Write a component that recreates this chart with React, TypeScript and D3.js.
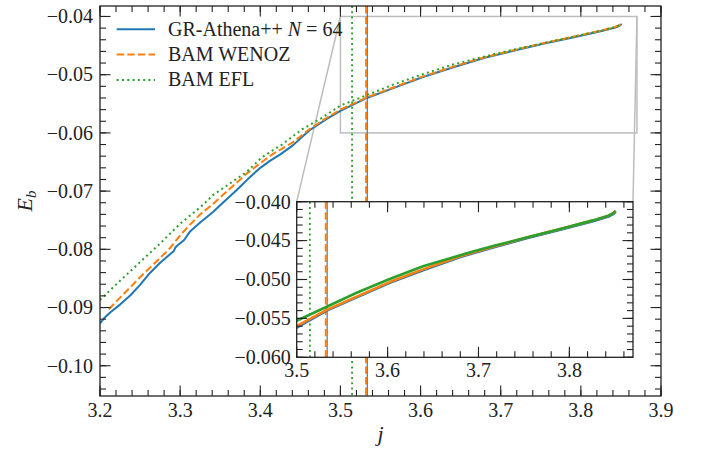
import React from "react";
import * as d3 from "d3";

// ---------- data ----------
const athenaJ = [3.200, 3.206, 3.213, 3.225, 3.238, 3.250, 3.262, 3.275, 3.287, 3.292, 3.294, 3.297, 3.305, 3.312, 3.325, 3.341, 3.355, 3.370, 3.387, 3.400, 3.412, 3.425, 3.441, 3.452, 3.462, 3.483, 3.500, 3.533, 3.566, 3.603, 3.639, 3.680, 3.716, 3.753, 3.790, 3.826, 3.843, 3.848, 3.851];
const athenaE = [-0.0927, -0.0917, -0.0908, -0.0895, -0.0879, -0.0861, -0.0841, -0.0823, -0.0809, -0.0803, -0.0797, -0.0793, -0.0784, -0.0770, -0.0754, -0.0736, -0.0718, -0.0699, -0.0676, -0.0660, -0.0648, -0.0637, -0.0621, -0.0607, -0.0595, -0.0576, -0.0562, -0.0540, -0.0523, -0.0504, -0.0488, -0.0471, -0.0459, -0.0447, -0.0436, -0.0425, -0.0419, -0.0416, -0.0413];

const wenozJ = [3.211, 3.225, 3.238, 3.250, 3.262, 3.275, 3.288, 3.300, 3.312, 3.325, 3.341, 3.362, 3.383, 3.400, 3.416, 3.441, 3.462, 3.483, 3.500, 3.533, 3.566, 3.603, 3.639, 3.680, 3.716, 3.753, 3.790, 3.826, 3.843, 3.848, 3.851];
const wenozE = [-0.0903, -0.0883, -0.0865, -0.0848, -0.0832, -0.0815, -0.0797, -0.0776, -0.0758, -0.0740, -0.0722, -0.0696, -0.0670, -0.0652, -0.0636, -0.0616, -0.0593, -0.0574, -0.0560, -0.0539, -0.0522, -0.0503, -0.0487, -0.0470, -0.0458, -0.0446, -0.0435, -0.0424, -0.0418, -0.0415, -0.0412];

const eflJ = [3.200, 3.225, 3.250, 3.275, 3.300, 3.325, 3.341, 3.383, 3.402, 3.427, 3.452, 3.477, 3.500, 3.533, 3.566, 3.603, 3.639, 3.691, 3.716, 3.753, 3.790, 3.826, 3.843, 3.848, 3.851];
const eflE = [-0.0887, -0.0854, -0.0822, -0.0790, -0.0756, -0.0728, -0.0707, -0.0667, -0.0642, -0.0620, -0.0594, -0.0574, -0.0553, -0.0535, -0.0517, -0.0499, -0.0483, -0.0465, -0.0457, -0.0446, -0.0435, -0.0424, -0.0418, -0.0415, -0.0412];

// vertical markers (j at merger)
const markerAthena = 3.5335;
const markerWenoz = 3.532;
const markerEfl = 3.5145;

const seriesNames = ["GR-Athena++ ", "BAM WENOZ", "BAM EFL"];
const colors = ["#1f77b4", "#ff7f0e", "#2ca02c"];

const mainXTicks = [3.2, 3.3, 3.4, 3.5, 3.6, 3.7, 3.8, 3.9];
const mainYTicks = [-0.10, -0.09, -0.08, -0.07, -0.06, -0.05, -0.04];
const insetXTicks = [3.5, 3.6, 3.7, 3.8];
const insetYTicks = [-0.060, -0.055, -0.050, -0.045, -0.040];

// ---------- layout ----------
const W = 706, H = 451;
const M = { l: 100, r: 661, t: 6, b: 396 };
const I = { l: 296.7, r: 633, t: 201.7, b: 357.3 };
const FONT = "'Liberation Serif', 'DejaVu Serif', serif";
const FS = 20;

const xMain = d3.scaleLinear().domain([3.2, 3.9]).range([M.l, M.r]);
const yMain = d3.scaleLinear().domain([-0.1052, -0.0382]).range([M.b, M.t]);
const xIn = d3.scaleLinear().domain([3.5, 3.87]).range([I.l, I.r]);
const yIn = d3.scaleLinear().domain([-0.06, -0.04]).range([I.b, I.t]);

const fmtNeg = (v: number, d: number) => (v < 0 ? "\u2212" : "") + Math.abs(v).toFixed(d);

function range(a: number, b: number, s: number) {
  const out: number[] = [];
  const n = Math.round((b - a) / s);
  for (let i = 0; i <= n; i++) out.push(+(a + i * s).toFixed(6));
  return out;
}

function Ticks({ x, y, box, xMaj, yMaj, xMin, yMin }: any) {
  const L = 10.5, l = 6;
  const els: any[] = [];
  const add = (key: string, x1: number, y1: number, x2: number, y2: number) =>
    els.push(<line key={key} x1={x1} y1={y1} x2={x2} y2={y2} stroke="#222" strokeWidth={1.1} />);
  xMin.forEach((v: number, i: number) => {
    const px = x(v);
    if (px < box.l - 0.5 || px > box.r + 0.5) return;
    add("xmb" + i, px, box.b, px, box.b - l);
    add("xmt" + i, px, box.t, px, box.t + l);
  });
  xMaj.forEach((v: number, i: number) => {
    const px = x(v);
    add("xMb" + i, px, box.b, px, box.b - L);
    add("xMt" + i, px, box.t, px, box.t + L);
  });
  yMin.forEach((v: number, i: number) => {
    const py = y(v);
    if (py < box.t - 0.5 || py > box.b + 0.5) return;
    add("ymb" + i, box.l, py, box.l + l, py);
    add("ymt" + i, box.r, py, box.r - l, py);
  });
  yMaj.forEach((v: number, i: number) => {
    const py = y(v);
    add("yMb" + i, box.l, py, box.l + L, py);
    add("yMt" + i, box.r, py, box.r - L, py);
  });
  return <g>{els}</g>;
}

export default function App() {
  const series = [
    { j: athenaJ, e: athenaE, c: colors[0], dash: undefined },
    { j: wenozJ, e: wenozE, c: colors[1], dash: "7.4 3.2" },
    { j: eflJ, e: eflE, c: colors[2], dash: "2 3.3" },
  ];
  const lineMain = (js: number[], es: number[]) =>
    d3.line<number>().x((_, i) => xMain(js[i])).y((_, i) => yMain(es[i]))(js) || "";
  const lineIn = (js: number[], es: number[]) =>
    d3.line<number>().x((_, i) => xIn(js[i])).y((_, i) => yIn(es[i]))(js) || "";

  const markers = [
    { v: markerAthena, c: colors[0], dash: undefined, w: 1.1 },
    { v: markerWenoz, c: colors[1], dash: "7.4 3.2", w: 2 },
    { v: markerEfl, c: colors[2], dash: "2 3.3", w: 1.8 },
  ];

  const gray = "#bdbdbd";

  return (
    <div style={{ position: "absolute", left: 0, top: 0 }}>
      <svg width={W} height={H} style={{ display: "block", background: "#fff" }}>
        <defs>
          <clipPath id="clipMain">
            <rect x={M.l} y={M.t} width={M.r - M.l} height={M.b - M.t} />
          </clipPath>
          <clipPath id="clipIn">
            <rect x={I.l} y={I.t} width={I.r - I.l} height={I.b - I.t} />
          </clipPath>
        </defs>
        <rect x={0} y={0} width={W} height={H} fill="#fff" />

        {/* main axes content */}
        <g clipPath="url(#clipMain)">
          <line x1={xMain(3.5)} y1={yMain(-0.04)} x2={I.l} y2={I.t} stroke={gray} strokeWidth={1.5} />
          <line x1={xMain(3.87)} y1={yMain(-0.04)} x2={I.r} y2={I.t} stroke={gray} strokeWidth={1.5} />
          <rect x={xMain(3.5)} y={yMain(-0.04)} width={xMain(3.87) - xMain(3.5)} height={yMain(-0.06) - yMain(-0.04)}
            fill="none" stroke={gray} strokeWidth={1.5} />
          {series.map((s, i) => (
            <path key={i} d={lineMain(s.j, s.e)} fill="none" stroke={s.c} strokeWidth={2}
              strokeDasharray={s.dash} strokeLinejoin="round" />
          ))}
          {markers.map((m, i) => (
            <line key={i} x1={xMain(m.v)} x2={xMain(m.v)} y1={M.t} y2={M.b} stroke={m.c}
              strokeWidth={m.w} strokeDasharray={m.dash} />
          ))}
        </g>
        <rect x={M.l} y={M.t} width={M.r - M.l} height={M.b - M.t} fill="none" stroke="#222" strokeWidth={1.3} />
        <Ticks x={xMain} y={yMain} box={M} xMaj={mainXTicks} yMaj={mainYTicks}
          xMin={range(3.2, 3.9, 0.02)} yMin={range(-0.106, -0.038, 0.002)} />
        <g fontFamily={FONT} fontSize={FS} fill="#222">
          {mainXTicks.map((v, i) => (
            <text key={i} x={xMain(v)} y={M.b + 21} textAnchor="middle">{v.toFixed(1)}</text>
          ))}
          {mainYTicks.map((v, i) => (
            <text key={i} x={M.l - 7} y={yMain(v)} dy="0.34em" textAnchor="end">{fmtNeg(v, 2)}</text>
          ))}
          <text x={(M.l + M.r) / 2} y={441} textAnchor="middle" fontStyle="italic" fontSize={22}>j</text>
          <text transform={`translate(32,${(M.t + M.b) / 2}) rotate(-90)`} textAnchor="middle" fontSize={22}>
            <tspan fontStyle="italic">E</tspan>
            <tspan fontStyle="italic" fontSize={15} dy={4}>b</tspan>
          </text>
        </g>

        {/* legend */}
        <g fontFamily={FONT} fontSize={FS} fill="#222">
          {seriesNames.map((name, i) => {
            const yy = 29.3 + i * 25.3;
            return (
              <g key={i}>
                <line x1={116.7} x2={155} y1={yy} y2={yy} stroke={colors[i]} strokeWidth={2}
                  strokeDasharray={series[i].dash} />
                <text x={168} y={yy + 6.5}>
                  {name}
                  {i === 0 ? <tspan fontStyle="italic">N</tspan> : null}
                  {i === 0 ? " = 64" : null}
                </text>
              </g>
            );
          })}
        </g>

        {/* inset */}
        <rect x={I.l} y={I.t} width={I.r - I.l} height={I.b - I.t} fill="#fff" />
        <g clipPath="url(#clipIn)">
          {markers.map((m, i) => (
            <line key={i} x1={xIn(m.v)} x2={xIn(m.v)} y1={I.t} y2={I.b} stroke={m.c}
              strokeWidth={m.w} strokeDasharray={m.dash} />
          ))}
          {series.map((s, i) => (
            <path key={i} d={lineIn(s.j, s.e)} fill="none" stroke={s.c} strokeWidth={2.6}
              strokeLinejoin="round" />
          ))}
        </g>
        <rect x={I.l} y={I.t} width={I.r - I.l} height={I.b - I.t} fill="none" stroke="#222" strokeWidth={1.3} />
        <Ticks x={xIn} y={yIn} box={I} xMaj={insetXTicks} yMaj={insetYTicks}
          xMin={range(3.5, 3.86, 0.02)} yMin={range(-0.06, -0.04, 0.001)} />
        <g fontFamily={FONT} fontSize={FS} fill="#222">
          {insetXTicks.map((v, i) => (
            <text key={i} x={xIn(v)} y={I.b + 20} textAnchor="middle">{v.toFixed(1)}</text>
          ))}
          {insetYTicks.map((v, i) => (
            <text key={i} x={I.l - 6} y={yIn(v)} dy="0.34em" textAnchor="end">{fmtNeg(v, 3)}</text>
          ))}
        </g>
      </svg>
    </div>
  );
}
